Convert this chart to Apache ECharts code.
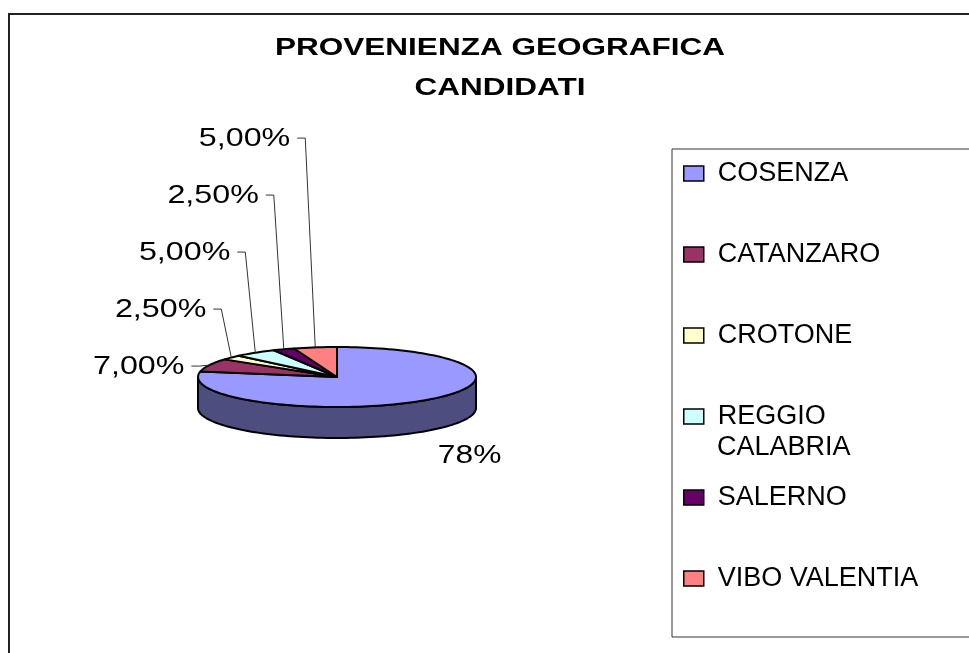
<!DOCTYPE html>
<html>
<head>
<meta charset="utf-8">
<script src="https://cdn.jsdelivr.net/npm/echarts@6/dist/echarts.min.js"></script>
<style>
  html, body { margin: 0; padding: 0; background: #fff; }
  #chart { width: 969px; height: 653px; }
</style>
</head>
<body>
<div id="chart"></div>
<script>
// dati
const categories = ['COSENZA', 'CATANZARO', 'CROTONE', 'REGGIO CALABRIA', 'SALERNO', 'VIBO VALENTIA'];
const percentages = [78, 7, 2.5, 5, 2.5, 5];
const pctLabels = ['78%', '7,00%', '2,50%', '5,00%', '2,50%', '5,00%'];
const topColors = ['#9999FF', '#993366', '#FFFFCC', '#CCFFFF', '#660066', '#FF8080'];
const sideColors = ['#4D4D80', '#4D1A33', '#808066', '#668080', '#330033', '#804040'];

const FONT = 'Liberation Sans, Arial, sans-serif';

// torta 3d inclinata (stile excel)
const cx = 337, cy = 377, rx = 139, ry = 30, depth = 31;
const rowGap = 57;

const total = percentages.reduce((a, b) => a + b, 0);
let acc = 0;
const slices = percentages.map(v => {
  const s = acc / total * 360;
  acc += v;
  return [s, acc / total * 360, v];
});

function pt(deg, dy) {
  const r = deg * Math.PI / 180;
  return [cx + rx * Math.sin(r), cy - ry * Math.cos(r) + (dy || 0)];
}

function arc(a, b, dy) {
  const n = Math.max(2, Math.ceil(Math.abs(b - a) / 2));
  const pts = [];
  for (let k = 0; k <= n; k++) pts.push(pt(a + (b - a) * k / n, dy));
  return pts;
}

function renderSlice(idx) {
  return function (params, api) {
    const start = api.value(0), end = api.value(1);
    const children = [];

    // parete laterale visibile (davanti)
    const a = Math.max(start, 90), b = Math.min(end, 270);
    if (a < b) {
      children.push({
        type: 'polygon', z2: 1,
        shape: { points: arc(a, b, 0).concat(arc(b, a, depth)) },
        style: { fill: sideColors[idx], stroke: '#000', lineWidth: 2, lineJoin: 'round' }
      });
    }

    // faccia superiore
    children.push({
      type: 'polygon', z2: 10,
      shape: { points: [[cx, cy]].concat(arc(start, end, 0)) },
      style: { fill: topColors[idx], stroke: '#000', lineWidth: 2, lineJoin: 'round' }
    });

    // etichette
    const mid = pt((start + end) / 2);
    const textStyle = { text: pctLabels[idx], fontSize: 26, fontFamily: FONT, fill: '#000', verticalAlign: 'middle' };
    if (idx === 0) {
      children.push({
        type: 'text', z2: 30, x: mid[0] + 44, y: mid[1] + depth + 25, scaleX: 1.22,
        style: Object.assign({}, textStyle, { align: 'center' })
      });
    } else {
      const firstMid = pt((slices[1][0] + slices[1][1]) / 2);
      const rowY = firstMid[1] + 1 - rowGap * (idx - 1);
      const right = mid[0] - 25;
      children.push({
        type: 'polyline', z2: 20,
        shape: { points: [[right + 7, rowY], [right + 15, rowY], mid] },
        style: { stroke: '#333', lineWidth: 1, fill: null }
      });
      children.push({
        type: 'text', z2: 30, x: right, y: rowY + 1, scaleX: 1.24,
        style: Object.assign({}, textStyle, { align: 'right' })
      });
    }
    return { type: 'group', children: children };
  };
}

const chart = echarts.init(document.getElementById('chart'));

chart.setOption({
  animation: false,
  graphic: [
    // cornice esterna
    { type: 'rect', shape: { x: 9, y: 14, width: 1000, height: 700 }, style: { fill: null, stroke: '#222', lineWidth: 2 } },
    // riquadro legenda
    { type: 'rect', shape: { x: 672, y: 149, width: 400, height: 488 }, style: { fill: null, stroke: '#333', lineWidth: 1 } },
    {
      type: 'text', x: 500, y: 29, scaleX: 1.37,
      style: {
        text: 'PROVENIENZA GEOGRAFICA\nCANDIDATI',
        fontSize: 23, fontWeight: 'bold', fontFamily: FONT, fill: '#000',
        align: 'center', verticalAlign: 'top', lineHeight: 40
      }
    },
    // seconda riga della voce "REGGIO CALABRIA" (la legenda va a capo senza spostare le altre voci)
    {
      type: 'text', x: 717, y: 448,
      style: { text: 'CALABRIA', fontSize: 27, fontFamily: FONT, fill: '#000', align: 'left', verticalAlign: 'middle' }
    }
  ],
  legend: {
    orient: 'vertical',
    left: 683,
    top: 157,
    padding: 0,
    itemGap: 48,
    itemWidth: 20,
    itemHeight: 15,
    icon: 'rect',
    itemStyle: { borderColor: '#000', borderWidth: 1.5 },
    textStyle: { fontSize: 27, fontFamily: FONT, color: '#000', lineHeight: 33, padding: [0, 0, 0, 9] },
    formatter: name => name === 'REGGIO CALABRIA' ? 'REGGIO' : name,
    data: categories
  },
  series: categories.map((name, i) => ({
    type: 'custom',
    name: name,
    coordinateSystem: 'none',
    silent: true,
    itemStyle: { color: topColors[i] },
    renderItem: renderSlice(i),
    data: [slices[i]]
  }))
});

window.addEventListener('resize', () => chart.resize());
</script>
</body>
</html>
